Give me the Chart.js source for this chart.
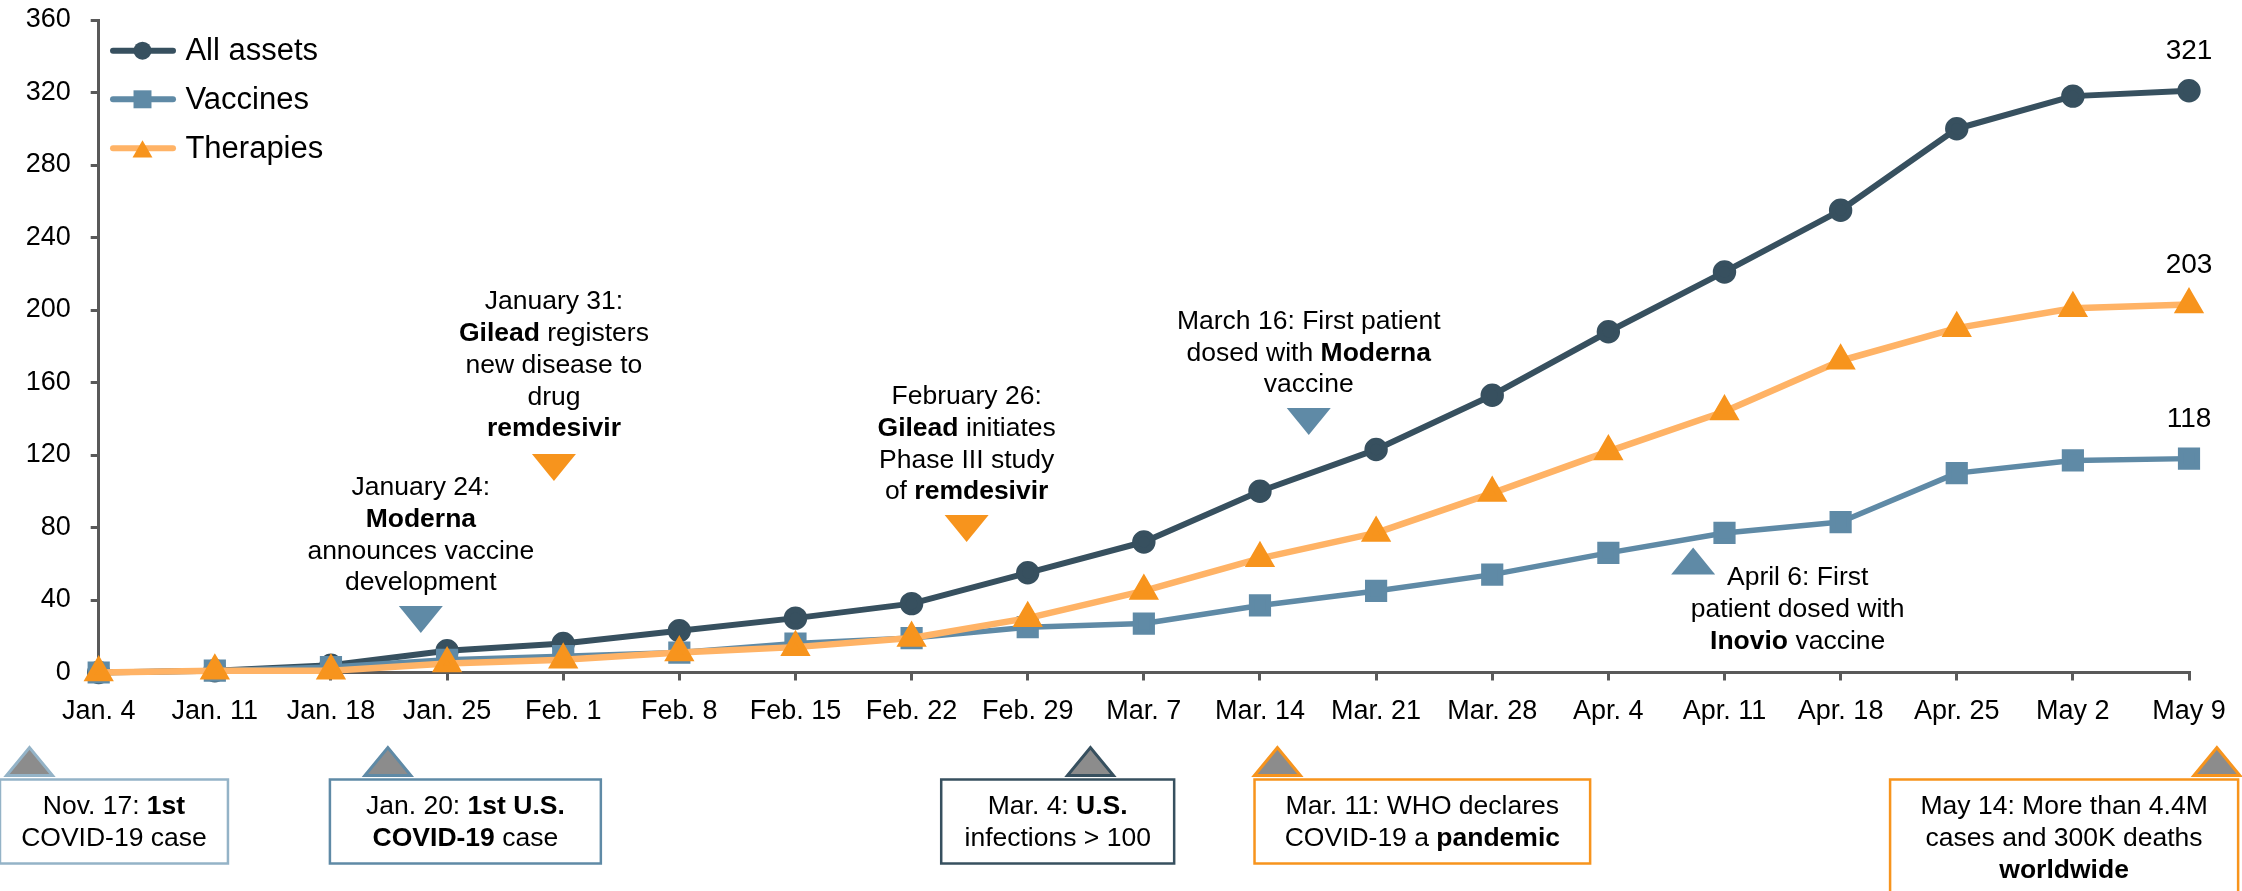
<!DOCTYPE html>
<html>
<head>
<meta charset="utf-8">
<script src="https://cdn.jsdelivr.net/npm/chart.js@4.4.1/dist/chart.umd.min.js"></script>
<style>
  html, body { margin: 0; padding: 0; background: #fff; overflow: hidden; }
  canvas { display: block; }
</style>
</head>
<body>
<canvas id="pipeline" width="2242" height="891"></canvas>
<script>
const weeks = ['Jan. 4', 'Jan. 11', 'Jan. 18', 'Jan. 25', 'Feb. 1', 'Feb. 8', 'Feb. 15', 'Feb. 22', 'Feb. 29',
  'Mar. 7', 'Mar. 14', 'Mar. 21', 'Mar. 28', 'Apr. 4', 'Apr. 11', 'Apr. 18', 'Apr. 25', 'May 2', 'May 9'];
const allAssets = [0, 1, 4, 12, 16, 23, 30, 38, 55, 72, 100, 123, 153, 188, 221, 255, 300, 318, 321];
const vaccines = [0, 1, 3, 7, 9, 11, 16, 19, 25, 27, 37, 45, 54, 66, 77, 83, 110, 117, 118];
const therapies = [0, 1, 1, 5, 7, 11, 14, 19, 30, 45, 63, 77, 99, 122, 144, 172, 190, 201, 203];
const yTicks = [0, 40, 80, 120, 160, 200, 240, 280, 320, 360];
const seriesNames = ['All assets', 'Vaccines', 'Therapies'];

// annotation texts (** marks bold)
const events = [
  ['January 24:', '**Moderna**', 'announces vaccine', 'development'],
  ['January 31:', '**Gilead** registers', 'new disease to', 'drug', '**remdesivir**'],
  ['February 26:', '**Gilead** initiates', 'Phase III study', 'of **remdesivir**'],
  ['March 16: First patient', 'dosed with **Moderna**', 'vaccine'],
  ['April 6: First', 'patient dosed with', '**Inovio** vaccine'],
];
const milestones = [
  ['Nov. 17: **1st**', 'COVID-19 case'],
  ['Jan. 20: **1st U.S.**', '**COVID-19** case'],
  ['Mar. 4: **U.S.**', 'infections > 100'],
  ['Mar. 11: WHO declares', 'COVID-19 a **pandemic**'],
  ['May 14: More than 4.4M', 'cases and 300K deaths', '**worldwide**'],
];

const colors = {
  dark: '#37505f',
  blue: '#5f8aa6',
  blueLight: '#94b3c7',
  orangeLine: '#ffb366',
  orange: '#f7941d',
  gray: '#8c8c8c',
  axis: '#595959',
  text: '#000000',
};
const FONT = '"Liberation Sans", Arial, Helvetica, sans-serif';

// layout for annotations: x in category index, tip in data value
const eventLayout = [
  { x: 2.774, tip: 21.8, dir: 'down', color: colors.blue },
  { x: 3.92, tip: 105.7, dir: 'down', color: colors.orange, gap: 25 },
  { x: 7.474, tip: 72, dir: 'down', color: colors.orange },
  { x: 10.42, tip: 131, dir: 'down', color: colors.blue },
  { x: 13.73, tip: 68.9, dir: 'up', color: colors.blue, textX: 14.63, textY: 52.1 },
];
// bottom boxes: x positions in category index
const milestoneLayout = [
  { left: -0.85, right: 1.113, tri: -0.596, color: colors.blueLight },
  { left: 1.991, right: 4.324, tri: 2.49, color: colors.blue },
  { left: 7.255, right: 9.261, tri: 8.54, color: colors.dark },
  { left: 9.953, right: 12.843, tri: 10.15, color: colors.orange },
  { left: 15.426, right: 18.423, tri: 18.24, color: colors.orange, tall: true },
];

function font(bold, size) {
  return (bold ? 'bold ' : '') + size + 'px ' + FONT;
}

function drawRich(ctx, line, cx, cy, size) {
  const segs = line.split('**').map((t, i) => ({ t, bold: i % 2 === 1 })).filter((s) => s.t);
  let w = 0;
  segs.forEach((s) => {
    ctx.font = font(s.bold, size);
    s.w = ctx.measureText(s.t).width;
    w += s.w;
  });
  let x = cx - w / 2;
  ctx.textAlign = 'left';
  ctx.textBaseline = 'middle';
  ctx.fillStyle = colors.text;
  segs.forEach((s) => {
    ctx.font = font(s.bold, size);
    ctx.fillText(s.t, x, cy);
    x += s.w;
  });
}

function triangle(ctx, cx, tipY, w, h, dir) {
  const baseY = dir === 'down' ? tipY - h : tipY + h;
  ctx.beginPath();
  ctx.moveTo(cx - w / 2, baseY);
  ctx.lineTo(cx + w / 2, baseY);
  ctx.lineTo(cx, tipY);
  ctx.closePath();
}

const annotationsPlugin = {
  id: 'annotations',
  afterDatasetsDraw(chart) {
    const { ctx, chartArea } = chart;
    const xs = chart.scales.x;
    const ys = chart.scales.y;
    ctx.save();

    // end-of-line value labels
    chart.data.datasets.forEach((ds, i) => {
      const meta = chart.getDatasetMeta(i);
      const pt = meta.data[meta.data.length - 1];
      ctx.font = font(false, 28);
      ctx.fillStyle = colors.text;
      ctx.textAlign = 'center';
      ctx.textBaseline = 'middle';
      ctx.fillText(String(ds.data[ds.data.length - 1]), pt.x, pt.y - 39);
    });

    // event callouts inside the plot
    const lh = 31.7;
    events.forEach((lines, i) => {
      const L = eventLayout[i];
      const cx = xs.getPixelForValue(L.x);
      const tipY = ys.getPixelForValue(L.tip);
      ctx.fillStyle = L.color;
      triangle(ctx, cx, tipY, 44, 27, L.dir);
      ctx.fill();
      if (L.dir === 'down') {
        const baseY = tipY - 27;
        const lastY = baseY - (L.gap || 23);
        lines.forEach((ln, k) => drawRich(ctx, ln, cx, lastY - (lines.length - 1 - k) * lh, 26.5));
      } else {
        const tx = xs.getPixelForValue(L.textX);
        const ty = ys.getPixelForValue(L.textY);
        lines.forEach((ln, k) => drawRich(ctx, ln, tx, ty + k * lh, 26.5));
      }
    });

    // milestone boxes under the axis
    const b = chartArea.bottom;
    milestones.forEach((lines, i) => {
      const L = milestoneLayout[i];
      const left = xs.getPixelForValue(L.left);
      const right = xs.getPixelForValue(L.right);
      const tcx = xs.getPixelForValue(L.tri);
      ctx.fillStyle = colors.gray;
      ctx.strokeStyle = L.color;
      ctx.lineWidth = 3;
      ctx.lineJoin = 'miter';
      triangle(ctx, tcx, b + 75, 46, 28, 'up');
      ctx.fill();
      ctx.stroke();
      ctx.fillStyle = '#ffffff';
      ctx.lineWidth = 2.5;
      const top = b + 107;
      const bottom = L.tall ? b + 260 : b + 191;
      ctx.fillRect(left, top, right - left, bottom - top);
      ctx.strokeRect(left, top, right - left, bottom - top);
      const cx = (left + right) / 2;
      lines.forEach((ln, k) => drawRich(ctx, ln, cx, b + 134 + k * 32, 26.5));
    });

    // legend in the top-left of the plot
    const legendStyles = [
      { line: colors.dark, fill: colors.dark, style: 'circle', r: 9, dy: 0 },
      { line: colors.blue, fill: colors.blue, style: 'rect', r: 12.7, dy: 0 },
      { line: colors.orangeLine, fill: colors.orange, style: 'triangle', r: 11.5, dy: 3.5 },
    ];
    const rows = [30.7, 79.3, 128.3];
    seriesNames.forEach((name, i) => {
      const st = legendStyles[i];
      const y = chartArea.top + rows[i];
      const x0 = chartArea.left + 14.3;
      ctx.strokeStyle = st.line;
      ctx.lineWidth = 6;
      ctx.lineCap = 'round';
      ctx.beginPath();
      ctx.moveTo(x0, y);
      ctx.lineTo(x0 + 60, y);
      ctx.stroke();
      ctx.fillStyle = st.fill;
      Chart.helpers.drawPoint(ctx, { pointStyle: st.style, radius: st.r, rotation: 0, borderWidth: 0 }, x0 + 29.5, y + st.dy);
      ctx.font = font(false, 31);
      ctx.fillStyle = colors.text;
      ctx.textAlign = 'left';
      ctx.textBaseline = 'middle';
      ctx.fillText(name, x0 + 72.4, y + 1);
    });

    ctx.restore();
  },
};

const axisStyle = {
  grid: { display: true, drawOnChartArea: false, drawTicks: true, tickLength: 8, color: colors.axis, lineWidth: 3 },
  border: { display: true, color: colors.axis, width: 3 },
};

new Chart(document.getElementById('pipeline'), {
  type: 'line',
  data: {
    labels: weeks,
    datasets: [
      {
        label: seriesNames[0],
        data: allAssets,
        borderColor: colors.dark,
        backgroundColor: colors.dark,
        pointBackgroundColor: colors.dark,
        pointBorderColor: colors.dark,
        pointStyle: 'circle',
        pointRadius: 8.7,
        borderWidth: 6,
        order: 2,
      },
      {
        label: seriesNames[1],
        data: vaccines,
        borderColor: colors.blue,
        backgroundColor: colors.blue,
        pointBackgroundColor: colors.blue,
        pointBorderColor: colors.blue,
        pointStyle: 'rect',
        pointRadius: 11.8,
        borderWidth: 5.5,
        order: 1,
      },
      {
        label: seriesNames[2],
        data: therapies,
        borderColor: colors.orangeLine,
        backgroundColor: colors.orange,
        pointBackgroundColor: colors.orange,
        pointBorderColor: colors.orange,
        pointStyle: 'triangle',
        pointRadius: 11,
        borderWidth: 6.5,
        order: 0,
      },
    ],
  },
  options: {
    responsive: false,
    animation: false,
    devicePixelRatio: 1,
    clip: false,
    elements: {
      line: { tension: 0, borderCapStyle: 'round', borderJoinStyle: 'round' },
      point: { borderWidth: 0, hoverRadius: 12 },
    },
    layout: { padding: { top: 20, right: 53, bottom: 0, left: 0 } },
    plugins: {
      legend: { display: false },
      tooltip: { enabled: false },
    },
    scales: {
      x: {
        ...axisStyle,
        offset: false,
        ticks: { color: colors.text, font: { family: FONT, size: 27 }, padding: 15, maxRotation: 0, autoSkip: false },
        afterFit(scale) { scale.height = 218.5; },
      },
      y: {
        ...axisStyle,
        min: 0,
        max: 360,
        afterBuildTicks(scale) { scale.ticks = yTicks.map((v) => ({ value: v })); },
        ticks: { color: colors.text, font: { family: FONT, size: 27 }, padding: 20 },
        afterFit(scale) {
          scale.width = 98.7;
          scale.paddingTop = 0;
          scale.paddingBottom = 0;
        },
      },
    },
  },
  plugins: [annotationsPlugin],
});
</script>
</body>
</html>
